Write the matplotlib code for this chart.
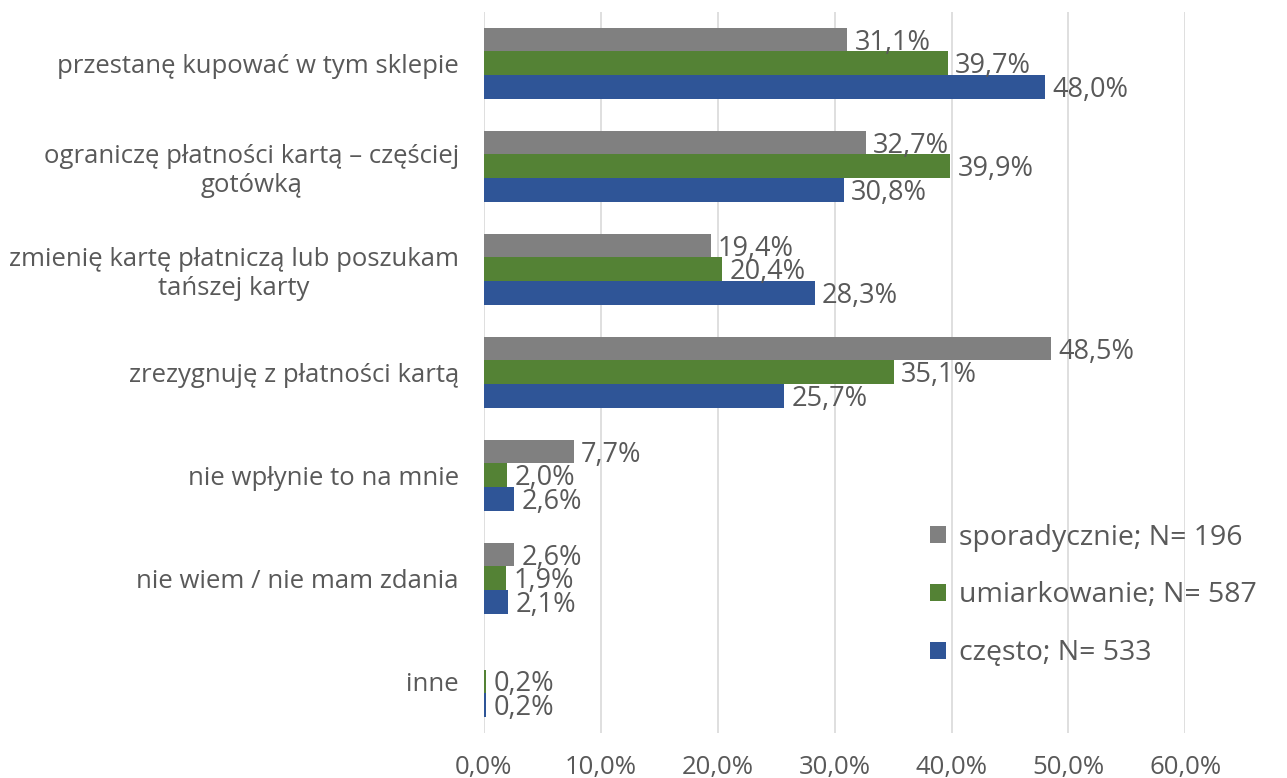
import numpy as np
import matplotlib.pyplot as plt
from matplotlib.ticker import FuncFormatter

plt.rcParams['font.family'] = ['Open Sans', 'DejaVu Sans']

categories = [
    "przestanę kupować w tym sklepie",
    "ograniczę płatności kartą – częściej\ngotówką",
    "zmienię kartę płatniczą lub poszukam\ntańszej karty",
    "zrezygnuję z płatności kartą",
    "nie wpłynie to na mnie",
    "nie wiem / nie mam zdania",
    "inne",
]
series_names = ["sporadycznie; N= 196", "umiarkowanie; N= 587", "często; N= 533"]
sporadycznie = [31.1, 32.7, 19.4, 48.5, 7.7, 2.6, 0.0]
umiarkowanie = [39.7, 39.9, 20.4, 35.1, 2.0, 1.9, 0.2]
czesto = [48.0, 30.8, 28.3, 25.7, 2.6, 2.1, 0.2]
colors = ["#808080", "#548235", "#2F5597"]

fig = plt.figure(figsize=(12.87, 7.78), dpi=100)
ax = fig.add_axes([0.376, 0.058, 0.545, 0.927])

y = np.arange(len(categories))
h = 0.23
text_color = "#595959"
handles = []
for i, (vals, name, c) in enumerate(zip([sporadycznie, umiarkowanie, czesto], series_names, colors)):
    pos = y + (i - 1) * h
    shown = [v if v > 0 else np.nan for v in vals]
    bars = ax.barh(pos, shown, height=h, color=c, label=name, zorder=3)
    handles.append(bars)
    for p, v in zip(pos, vals):
        if v > 0:
            ax.text(v + 0.6, p + 0.03, f"{v:.1f}%".replace(".", ","), va="center", ha="left",
                    fontsize=19.5, color=text_color, zorder=4)

ax.set_ylim(len(categories) - 0.5, -0.5)
ax.set_xlim(0, 60)
ax.set_xticks(np.arange(0, 61, 10))
ax.xaxis.set_major_formatter(FuncFormatter(lambda v, _: f"{v:.1f}%".replace(".", ",")))
ax.set_yticks(y)
ax.set_yticklabels(categories, multialignment="center")
ax.tick_params(axis="both", length=0, labelsize=18.5, labelcolor=text_color)
ax.tick_params(axis="x", pad=16)
ax.tick_params(axis="y", pad=18)
ax.grid(axis="x", color="#d9d9d9", linewidth=1.2, zorder=0)
for s in ax.spines.values():
    s.set_visible(False)

fig.legend(handles=handles, labels=series_names, loc="upper left", bbox_to_anchor=(0.703, 0.36),
           frameon=False, fontsize=20.5, labelcolor=text_color, handlelength=0.55, handleheight=0.55,
           handletextpad=0.45, labelspacing=1.05)

fig.savefig("out.png", dpi=100)
